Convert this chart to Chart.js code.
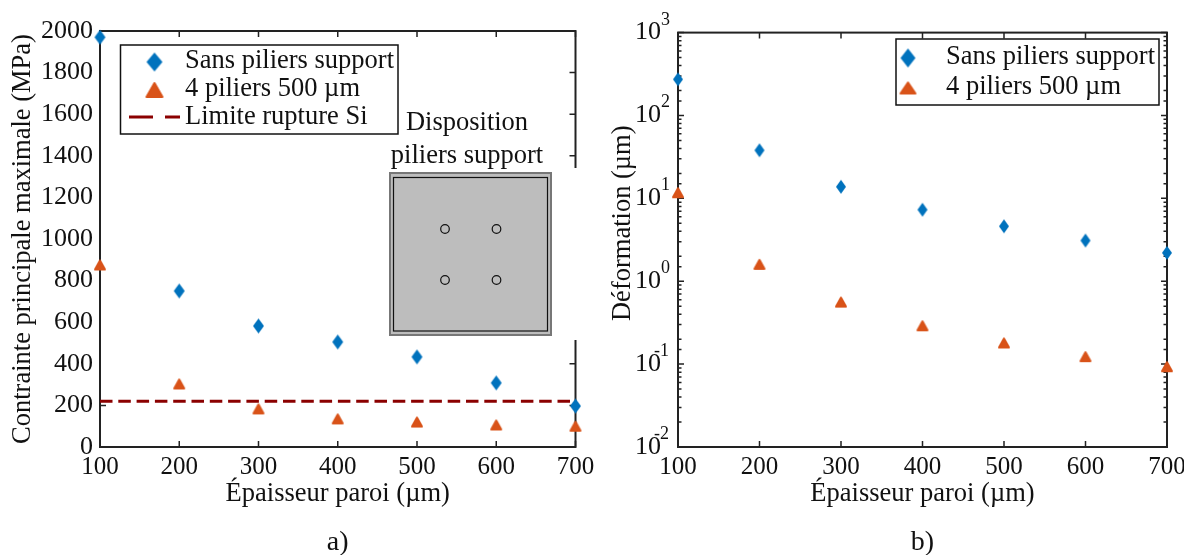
<!DOCTYPE html>
<html>
<head>
<meta charset="utf-8">
<script src="https://cdn.jsdelivr.net/npm/chart.js@4/dist/chart.umd.min.js"></script>
<style>
  html, body { margin: 0; padding: 0; background: #fff; overflow: hidden; }
  canvas { position: absolute; top: 0; }
  #chart-a { left: 0; }
  #chart-b { left: 600px; }
</style>
</head>
<body>
<canvas id="chart-a" width="600" height="555"></canvas>
<canvas id="chart-b" width="620" height="555"></canvas>
<script>
//Values
const wallThickness = [100, 200, 300, 400, 500, 600, 700];
const stressNoPillars = [1970, 750, 582, 505, 433, 308, 197];
const stress4Pillars = [875, 303, 183, 135, 120, 106, 100];
const limitX = [100, 700];
const limitStress = [220, 220];
const deformNoPillars = [273, 38, 13.8, 7.3, 4.6, 3.1, 2.2];
const deform4Pillars = [11.7, 1.6, 0.56, 0.29, 0.18, 0.123, 0.093];

const labelNoPillars = "Sans piliers support";
const label4Pillars = "4 piliers 500 µm";
const labelLimit = "Limite rupture Si";

const BLUE = "#0072BD";
const ORANGE = "#D95319";
const DARKRED = "#8B0000";
const INK = "#111";
const SERIF = "'Liberation Serif', 'Times New Roman', serif";

//Markers are narrower than the built in ones, so they are small canvases
function diamond(w, h) {
  const c = document.createElement("canvas");
  c.width = w + 2;
  c.height = h + 2;
  const g = c.getContext("2d");
  g.fillStyle = BLUE;
  g.beginPath();
  g.moveTo(c.width / 2, 1);
  g.lineTo(c.width - 1, c.height / 2);
  g.lineTo(c.width / 2, c.height - 1);
  g.lineTo(1, c.height / 2);
  g.closePath();
  g.fill();
  return c;
}

function triangle(w, h) {
  const c = document.createElement("canvas");
  c.width = w + 2;
  c.height = h + 2;
  const g = c.getContext("2d");
  g.fillStyle = ORANGE;
  g.strokeStyle = ORANGE;
  g.lineWidth = 2;
  g.lineJoin = "round";
  g.beginPath();
  g.moveTo(c.width / 2, 2);
  g.lineTo(c.width - 2, c.height - 2);
  g.lineTo(2, c.height - 2);
  g.closePath();
  g.fill();
  g.stroke();
  return c;
}

function toPoints(xs, ys) {
  return xs.map((x, i) => ({ x: x, y: ys[i] }));
}

function setFont(ctx, size) {
  ctx.font = size + "px " + SERIF;
  ctx.fillStyle = INK;
  ctx.textBaseline = "alphabetic";
}

//Box around the plot with ticks pointing inwards, top and right included
const framePlugin = {
  id: "frame",
  beforeDatasetsDraw(chart) {
    const ctx = chart.ctx;
    const area = chart.chartArea;
    const xs = chart.scales.x;
    const ys = chart.scales.y;
    const isLog = ys.type === "logarithmic";
    const leftTicks = chart.options.plugins.frame.leftTicks;
    ctx.save();
    ctx.strokeStyle = "#222";
    ctx.lineWidth = 1.5;
    ctx.beginPath();
    xs.ticks.forEach((t) => {
      const px = xs.getPixelForValue(t.value);
      ctx.moveTo(px, area.bottom);
      ctx.lineTo(px, area.bottom - 6);
      ctx.moveTo(px, area.top);
      ctx.lineTo(px, area.top + 6);
    });
    ys.ticks.forEach((t) => {
      const py = ys.getPixelForValue(t.value);
      const decade = Number.isInteger(+Math.log10(t.value).toFixed(6));
      const len = !isLog || decade ? 6 : 3.5;
      if (isLog || leftTicks.includes(t.value)) {
        ctx.moveTo(area.left, py);
        ctx.lineTo(area.left + len, py);
      }
      ctx.moveTo(area.right, py);
      ctx.lineTo(area.right - len, py);
    });
    ctx.stroke();
    ctx.lineWidth = 2;
    ctx.strokeRect(area.left, area.top, area.right - area.left, area.bottom - area.top);
    ctx.restore();
  },
  afterDraw(chart) {
    const ctx = chart.ctx;
    const opts = chart.options.plugins.frame;
    const area = chart.chartArea;
    //Panel letter under the axis title
    ctx.save();
    setFont(ctx, 28);
    ctx.textAlign = "center";
    ctx.fillText(opts.panel, (area.left + area.right) / 2, 550);
    //Exponents of the log axis
    if (chart.scales.y.type === "logarithmic") {
      const ys = chart.scales.y;
      setFont(ctx, 18);
      ctx.textAlign = "left";
      ys.ticks.forEach((t) => {
        const exp = Math.log10(t.value);
        if (Number.isInteger(+exp.toFixed(6))) {
          const e = Math.round(exp);
          const ex = e < 0 ? area.left - 24 : area.left - 17;
          ctx.fillText(String(e), ex, ys.getPixelForValue(t.value) - 8);
        }
      });
    }
    ctx.restore();
  },
};

//Legend box, the entries come from the datasets of the chart
const boxLegendPlugin = {
  id: "boxLegend",
  afterDatasetsDraw(chart) {
    const ctx = chart.ctx;
    const o = chart.options.plugins.boxLegend;
    ctx.save();
    ctx.fillStyle = "#fff";
    ctx.fillRect(o.x, o.y, o.w, o.h);
    ctx.strokeStyle = "#111";
    ctx.lineWidth = 1.5;
    ctx.strokeRect(o.x, o.y, o.w, o.h);
    chart.data.datasets.forEach((ds, i) => {
      const base = o.baselines[i];
      if (ds.showLine) {
        ctx.strokeStyle = ds.borderColor;
        ctx.lineWidth = 3;
        ctx.setLineDash([24, 12]);
        ctx.beginPath();
        ctx.moveTo(o.lineX[0], base - 7);
        ctx.lineTo(o.lineX[1], base - 7);
        ctx.stroke();
        ctx.setLineDash([]);
      } else {
        const m = o.markers[i];
        ctx.drawImage(m, o.markerX - m.width / 2, base - 6 - m.height / 2);
      }
      setFont(ctx, 26.5);
      ctx.textAlign = "left";
      ctx.fillText(ds.label, o.textX, base);
    });
    ctx.restore();
  },
};

//Pillar layout sketch pasted over the left plot
const insetPlugin = {
  id: "inset",
  afterDatasetsDraw(chart) {
    const ctx = chart.ctx;
    ctx.save();
    ctx.fillStyle = "#fff";
    ctx.fillRect(384, 168, 196, 172);
    ctx.fillStyle = "#BDBDBD";
    ctx.fillRect(390, 173, 161, 162);
    ctx.strokeStyle = "#777";
    ctx.lineWidth = 2;
    ctx.strokeRect(390, 173, 161, 162);
    ctx.strokeStyle = "#111";
    ctx.lineWidth = 1.2;
    ctx.strokeRect(393.5, 177.5, 154, 153.5);
    [[445, 229], [496.5, 229], [445, 280], [496.5, 280]].forEach((p) => {
      ctx.beginPath();
      ctx.arc(p[0], p[1], 4.3, 0, Math.PI * 2);
      ctx.stroke();
    });
    setFont(ctx, 26.5);
    ctx.textAlign = "center";
    ctx.fillText("Disposition", 467, 130);
    ctx.fillText("piliers support", 467, 163);
    ctx.restore();
  },
};

function xAxis() {
  return {
    type: "linear",
    min: 100,
    max: 700,
    grid: { display: false, drawTicks: false },
    border: { display: false },
    ticks: {
      stepSize: 100,
      maxRotation: 0,
      padding: 5,
      color: INK,
      font: { family: SERIF, size: 25 },
      callback: (v) => String(v),
    },
    title: {
      display: true,
      text: "Épaisseur paroi (µm)",
      color: INK,
      padding: 0,
      font: { family: SERIF, size: 26.5 },
    },
    afterFit: (s) => {
      s.height = 63;
    },
  };
}

function yTitle(text) {
  return {
    display: true,
    text: text,
    color: INK,
    padding: 7,
    font: { family: SERIF, size: 26.5 },
  };
}

function scatterSet(label, xs, ys, marker) {
  return {
    type: "scatter",
    label: label,
    data: toPoints(xs, ys),
    pointStyle: marker,
    clip: false,
    showLine: false,
  };
}

new Chart(document.getElementById("chart-a"), {
  data: {
    datasets: [
      scatterSet(labelNoPillars, wallThickness, stressNoPillars, diamond(11, 15)),
      scatterSet(label4Pillars, wallThickness, stress4Pillars, triangle(12, 11)),
      {
        type: "line",
        label: labelLimit,
        data: toPoints(limitX, limitStress),
        borderColor: DARKRED,
        borderWidth: 3,
        borderDash: [12.5, 5.8],
        pointRadius: 0,
        showLine: true,
        order: 1,
      },
    ],
  },
  plugins: [framePlugin, insetPlugin, boxLegendPlugin],
  options: {
    responsive: false,
    animation: false,
    layout: { padding: { top: 31, right: 24.5, bottom: 45, left: 0 } },
    scales: {
      x: xAxis(),
      y: {
        min: 0,
        max: 2000,
        grid: { display: false, drawTicks: false },
        border: { display: false },
        ticks: {
          stepSize: 200,
          padding: 7,
          color: INK,
          font: { family: SERIF, size: 26 },
          callback: (v) => String(v),
        },
        title: yTitle("Contrainte principale maximale (MPa)"),
        afterFit: (s) => {
          s.width = 100;
        },
      },
    },
    plugins: {
      legend: { display: false },
      tooltip: { enabled: false },
      frame: { panel: "a)", leftTicks: [200] },
      boxLegend: {
        x: 120.5,
        y: 45,
        w: 277.5,
        h: 89,
        textX: 185,
        markerX: 154.5,
        lineX: [129, 180],
        baselines: [68, 96, 124],
        markers: [diamond(16, 19), triangle(18, 16)],
      },
    },
  },
});

new Chart(document.getElementById("chart-b"), {
  data: {
    datasets: [
      scatterSet(labelNoPillars, wallThickness, deformNoPillars, diamond(10, 14)),
      scatterSet(label4Pillars, wallThickness, deform4Pillars, triangle(12, 11)),
    ],
  },
  plugins: [framePlugin, boxLegendPlugin],
  options: {
    responsive: false,
    animation: false,
    layout: { padding: { top: 31, right: 53, bottom: 45, left: 0 } },
    scales: {
      x: xAxis(),
      y: {
        type: "logarithmic",
        min: 0.01,
        max: 1000,
        grid: { display: false, drawTicks: false },
        border: { display: false },
        ticks: {
          autoSkip: false,
          padding: 17,
          color: INK,
          font: { family: SERIF, size: 26 },
          callback: (v) => (Number.isInteger(+Math.log10(v).toFixed(6)) ? "10" : ""),
        },
        //Leading spaces: this title sits above the middle of the axis in the original
        title: yTitle("\u00A0\u00A0\u00A0\u00A0\u00A0Déformation (µm)"),
        afterFit: (s) => {
          s.width = 78;
        },
      },
    },
    plugins: {
      legend: { display: false },
      tooltip: { enabled: false },
      frame: { panel: "b)", leftTicks: [] },
      boxLegend: {
        x: 296,
        y: 39,
        w: 263,
        h: 66,
        textX: 346,
        markerX: 308,
        lineX: [0, 0],
        baselines: [64, 94],
        markers: [diamond(15, 19), triangle(17, 13)],
      },
    },
  },
});
</script>
</body>
</html>
